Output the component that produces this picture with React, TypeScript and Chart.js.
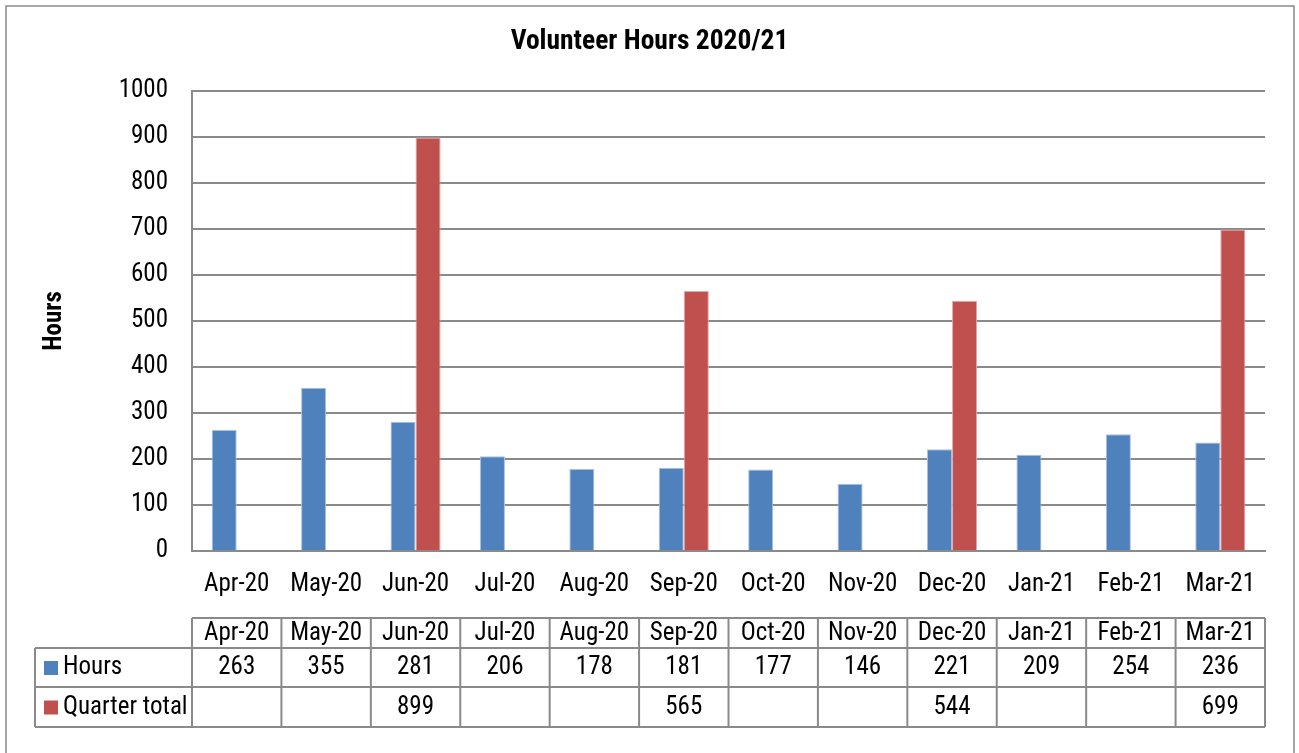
import React, { useEffect, useRef } from "react";
import { Chart, registerables } from "chart.js";

Chart.register(...registerables);

const months = ["Apr-20", "May-20", "Jun-20", "Jul-20", "Aug-20", "Sep-20", "Oct-20", "Nov-20", "Dec-20", "Jan-21", "Feb-21", "Mar-21"];
const hours = [263, 355, 281, 206, 178, 181, 177, 146, 221, 209, 254, 236];
const quarterTotal: (number | null)[] = [null, null, 899, null, null, 565, null, null, 544, null, null, 699];
const seriesNames = ["Hours", "Quarter total"];
const chartTitle = "Volunteer Hours 2020/21";
const yAxisTitle = "Hours";
const yMin = 0;
const yMax = 1000;
const yStep = 100;

const FONT = "'Roboto Condensed', 'Liberation Sans Narrow', sans-serif";
const BLUE = "#4F81BD";
const RED = "#C0504D";
const GRID = "#8A8A8A";
const TXT = 25;

const frameAndTable = {
  id: "frameAndTable",
  beforeDraw(chart: any) {
    const ctx = chart.ctx;
    ctx.save();
    ctx.fillStyle = "#ffffff";
    ctx.fillRect(0, 0, chart.width, chart.height);
    ctx.strokeStyle = GRID;
    ctx.lineWidth = 1.5;
    ctx.strokeRect(6, 6, 1288, 800);
    ctx.restore();
  },
  afterDraw(chart: any) {
    const ctx = chart.ctx;
    const x = chart.scales.x;
    const n = months.length;
    const cw = (x.right - x.left) / n;
    const left = x.left;
    const right = x.right;
    const rowY = [618, 648, 687, 727];
    const legendLeft = 35;
    ctx.save();
    ctx.strokeStyle = GRID;
    ctx.lineWidth = 2;
    const line = (x1: number, y1: number, x2: number, y2: number) => {
      ctx.beginPath();
      ctx.moveTo(x1, y1);
      ctx.lineTo(x2, y2);
      ctx.stroke();
    };
    line(left, rowY[0], right, rowY[0]);
    for (let r = 1; r < rowY.length; r++) line(legendLeft, rowY[r], right, rowY[r]);
    line(legendLeft, rowY[1], legendLeft, rowY[3]);
    for (let i = 0; i <= n; i++) {
      const bx = left + i * cw;
      line(bx, rowY[0], bx, rowY[3]);
    }
    ctx.fillStyle = "#000000";
    ctx.font = `${TXT}px ${FONT}`;
    ctx.textAlign = "center";
    ctx.textBaseline = "middle";
    const rowsData = [hours, quarterTotal];
    const rowCenters = [668, 707.5];
    for (let i = 0; i < n; i++) {
      const cx = x.getPixelForValue(i);
      ctx.fillText(months[i], cx, 633.5);
      rowsData.forEach((arr, r) => {
        const v = arr[i];
        if (v !== null && v !== undefined) ctx.fillText(String(v), cx, rowCenters[r]);
      });
    }
    const colors = [BLUE, RED];
    ctx.textAlign = "left";
    seriesNames.forEach((name, r) => {
      ctx.fillStyle = colors[r];
      ctx.fillRect(44, rowCenters[r] - 7, 14, 14);
      ctx.fillStyle = "#000000";
      ctx.fillText(name, 63, rowCenters[r]);
    });
    ctx.restore();
  },
};

export default function App() {
  const ref = useRef<HTMLCanvasElement>(null);
  useEffect(() => {
    document.body.style.margin = "0";
    const canvas = ref.current!;
    const chart = new Chart(canvas, {
      type: "bar",
      data: {
        labels: months,
        datasets: [
          {
            label: seriesNames[0],
            data: hours,
            backgroundColor: BLUE,
            borderColor: "#A9C0E0",
            borderWidth: { top: 1, left: 1, right: 1, bottom: 0 },
            categoryPercentage: 0.56,
            barPercentage: 1,
          },
          {
            label: seriesNames[1],
            data: quarterTotal,
            backgroundColor: RED,
            borderColor: "#E0A8A6",
            borderWidth: { top: 1, left: 1, right: 1, bottom: 0 },
            categoryPercentage: 0.56,
            barPercentage: 1,
          },
        ],
      },
      options: {
        responsive: false,
        animation: false,
        devicePixelRatio: 1,
        layout: { padding: { left: 0, right: 0, top: 0, bottom: 142 } },
        plugins: {
          legend: { display: false },
          tooltip: { enabled: false },
          title: {
            display: true,
            text: chartTitle,
            color: "#000000",
            font: { family: FONT, size: 27.5, weight: "bold" },
            padding: { top: 26, bottom: 32 },
          },
        },
        scales: {
          x: {
            grid: { display: false, drawTicks: false },
            border: { display: true, color: GRID, width: 2 },
            ticks: { color: "#000000", font: { family: FONT, size: TXT }, padding: 19, maxRotation: 0, autoSkip: false },
            afterFit: (s: any) => {
              s.height = 60;
            },
          },
          y: {
            min: yMin,
            max: yMax,
            ticks: {
              stepSize: yStep,
              color: "#000000",
              font: { family: FONT, size: TXT },
              padding: 24,
              callback: (v: any) => String(v),
            },
            grid: { color: GRID, lineWidth: 2, drawTicks: false },
            border: { display: true, color: GRID, width: 2 },
            title: {
              display: true,
              text: yAxisTitle,
              color: "#000000",
              font: { family: FONT, size: 25, weight: "bold" },
              padding: { top: 40, bottom: 0 },
            },
            afterFit: (s: any) => {
              s.width = 192;
            },
          },
          yRightSpace: {
            type: "linear",
            position: "right",
            display: true,
            ticks: { display: false },
            grid: { display: false, drawTicks: false },
            border: { display: false },
            afterFit: (s: any) => {
              s.width = 34;
            },
          },
        },
      },
      plugins: [frameAndTable],
    });
    return () => chart.destroy();
  }, []);
  return (
    <div style={{ width: 1299, height: 753, position: "relative" }}>
      <canvas ref={ref} width={1299} height={753} style={{ display: "block", width: 1299, height: 753 }} />
    </div>
  );
}
